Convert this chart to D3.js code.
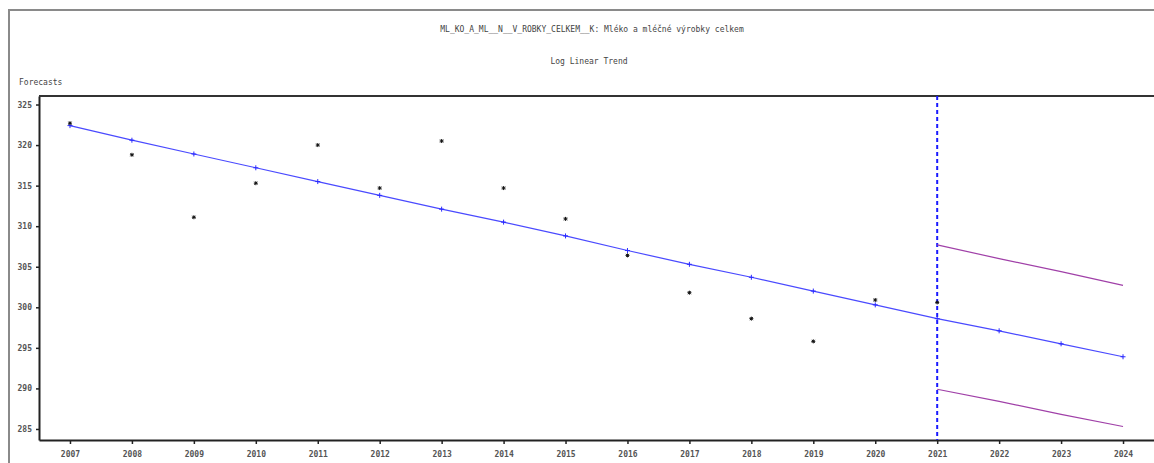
<!DOCTYPE html>
<meta charset="utf-8">
<script src="https://d3js.org/d3.v7.min.js"></script>
<style>
  body { margin: 0; background: #fff; }
  text { font-family: "DejaVu Sans Mono", monospace; }
</style>
<div id="my_dataviz"></div>
<script>

// years and values
var years = [2007, 2008, 2009, 2010, 2011, 2012, 2013, 2014, 2015, 2016, 2017, 2018, 2019, 2020, 2021];
var actual = [322.7, 318.8, 311.1, 315.3, 320.0, 314.7, 320.5, 314.7, 310.9, 306.4, 301.8, 298.6, 295.8, 300.9, 300.6];

var trendYears = [2007, 2008, 2009, 2010, 2011, 2012, 2013, 2014, 2015, 2016, 2017, 2018, 2019, 2020, 2021, 2022, 2023, 2024];
var trend = [322.4, 320.6, 318.9, 317.2, 315.5, 313.8, 312.1, 310.5, 308.8, 307.0, 305.3, 303.7, 302.0, 300.3, 298.6, 297.1, 295.5, 293.9];

var fcYears = [2021, 2022, 2023, 2024];
var upper = [307.7, 306.0, 304.4, 302.7];
var lower = [289.9, 288.4, 286.8, 285.3];

var forecastStart = 2021;
var yTicks = [285, 290, 295, 300, 305, 310, 315, 320, 325];

var W = 1154, H = 463;
var margin = {top: 96, right: 0, bottom: 23, left: 39};
var width = W - margin.left - margin.right,
    height = H - margin.top - margin.bottom;

var svgRoot = d3.select("#my_dataviz")
  .append("svg")
    .attr("width", W)
    .attr("height", H);

// outer gray frame (top and left)
svgRoot.append("path")
    .attr("d", "M9,463 V10 H1154")
    .attr("fill", "none")
    .attr("stroke", "#8a8a8a")
    .attr("stroke-width", 2);

svgRoot.append("text")
    .attr("x", 592).attr("y", 32)
    .attr("text-anchor", "middle")
    .attr("font-size", "8px")
    .attr("fill", "#444")
    .text("ML_KO_A_ML__N__V_ROBKY_CELKEM__K: Mléko a mléčné výrobky celkem");

svgRoot.append("text")
    .attr("x", 589).attr("y", 64)
    .attr("text-anchor", "middle")
    .attr("font-size", "8px")
    .attr("fill", "#444")
    .text("Log Linear Trend");

svgRoot.append("text")
    .attr("x", 19).attr("y", 85)
    .attr("font-size", "8px")
    .attr("fill", "#444")
    .text("Forecasts");

var svg = svgRoot.append("g")
    .attr("transform", "translate(" + margin.left + "," + margin.top + ")");

var x = d3.scaleLinear()
    .domain([2006.5, 2024.5])
    .range([0, width]);

var y = d3.scaleLinear()
    .domain([283.64, 326.05])
    .range([height, 0]);

// axes
var xAxis = svg.append("g")
    .attr("transform", "translate(0," + height + ")")
    .call(d3.axisBottom(x).tickValues(trendYears).tickFormat(d3.format("d")).tickSize(4).tickSizeOuter(0));
var yAxis = svg.append("g")
    .call(d3.axisLeft(y).tickValues(yTicks).tickSize(3).tickSizeOuter(0));

[xAxis, yAxis].forEach(function(a) {
  a.select(".domain").attr("stroke", "#222").attr("stroke-width", 2);
  a.selectAll(".tick line").attr("stroke", "#222").attr("stroke-width", 1.5);
  a.selectAll(".tick text")
    .attr("font-family", "DejaVu Sans Mono, monospace")
    .attr("font-size", "8px")
    .attr("font-weight", "bold")
    .attr("fill", "#555");
});
xAxis.selectAll(".tick text").attr("dy", "1.3em");
yAxis.selectAll(".tick text").attr("dx", "-1px");

// top frame line
svg.append("line")
    .attr("x1", 0).attr("x2", width)
    .attr("y1", 0).attr("y2", 0)
    .attr("stroke", "#333")
    .attr("stroke-width", 2);

// forecast start marker
svg.append("line")
    .attr("x1", x(forecastStart)).attr("x2", x(forecastStart))
    .attr("y1", 0).attr("y2", height)
    .attr("stroke", "#1a1aff")
    .attr("stroke-width", 2)
    .attr("stroke-dasharray", "4,3");

var line = d3.line()
    .x(function(d) { return x(d[0]); })
    .y(function(d) { return y(d[1]); });

// confidence limits
[upper, lower].forEach(function(s) {
  svg.append("path")
      .datum(d3.zip(fcYears, s))
      .attr("fill", "none")
      .attr("stroke", "#a040a8")
      .attr("stroke-width", 1.2)
      .attr("d", line);
});

// trend
svg.append("path")
    .datum(d3.zip(trendYears, trend))
    .attr("fill", "none")
    .attr("stroke", "#4a4aff")
    .attr("stroke-width", 1.2)
    .attr("d", line);

svg.selectAll(".plus")
    .data(d3.zip(trendYears, trend))
    .enter()
    .append("path")
      .attr("class", "plus")
      .attr("transform", function(d) { return "translate(" + x(d[0]) + "," + y(d[1]) + ")"; })
      .attr("d", "M-2.5,0H2.5M0,-2.5V2.5")
      .attr("stroke", "#2a2aff")
      .attr("stroke-width", 1);

// actual values
svg.selectAll(".star")
    .data(d3.zip(years, actual))
    .enter()
    .append("path")
      .attr("class", "star")
      .attr("transform", function(d) { return "translate(" + x(d[0]) + "," + y(d[1]) + ")"; })
      .attr("d", "M-2,0H2M0,-2V2M-1.5,-1.5L1.5,1.5M-1.5,1.5L1.5,-1.5")
      .attr("stroke", "#111")
      .attr("stroke-width", 1);

</script>
